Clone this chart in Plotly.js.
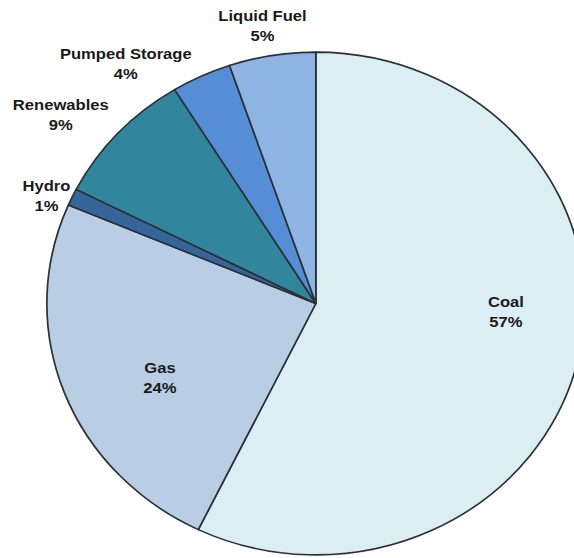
<!DOCTYPE html>
<html>
<head>
<meta charset="utf-8">
<script src="https://cdn.plot.ly/plotly-3.0.1.min.js"></script>
<style>
html, body { margin: 0; padding: 0; background: #ffffff; overflow: hidden; width: 574px; height: 558px; }
#chart { width: 600px; height: 558px; transform: scaleX(1.07); transform-origin: 0 0; }
</style>
</head>
<body>
<div id="chart"></div>
<script>
const categories = ["Coal", "Gas", "Hydro", "Renewables", "Pumped Storage", "Liquid Fuel"];
const shares = [57.2, 24.2, 1.1, 8.7, 3.6, 5.2];
const sliceColors = ["#dbeef4", "#b9cde5", "#36659a", "#31859c", "#558ed5", "#8eb4e3"];

// label anchor points (paper fractions of the unscaled 600x558 plot)
const labelX = [473 / 600, 149.5 / 600, 43 / 600, 57 / 600, 118 / 600, 246 / 600];
const labelY = [1 - 311 / 558, 1 - 377 / 558, 1 - 195 / 558, 1 - 114 / 558, 1 - 63 / 558, 1 - 26 / 558];

const total = shares.reduce((a, b) => a + b, 0);

const trace = {
  type: "pie",
  labels: categories,
  values: shares,
  sort: false,
  direction: "clockwise",
  rotation: 0,
  marker: { colors: sliceColors, line: { color: "#2b3038", width: 1.6 } },
  textinfo: "none",
  domain: { x: [0.073, 0.911], y: [0.0054, 0.9068] },
  hoverinfo: "none",
  showlegend: false
};

const annotations = categories.map((c, i) => ({
  xref: "paper", yref: "paper",
  x: labelX[i], y: labelY[i],
  xanchor: "center", yanchor: "middle",
  text: c + "<br>" + Math.round(shares[i] / total * 100) + "%",
  showarrow: false,
  align: "center",
  font: { family: "Liberation Sans, Arial, sans-serif", size: 15.5, color: "#1a1a1a", weight: "bold" }
}));

const layout = {
  width: 600,
  height: 558,
  margin: { l: 0, r: 0, t: 0, b: 0 },
  paper_bgcolor: "#ffffff",
  plot_bgcolor: "#ffffff",
  showlegend: false,
  annotations: annotations
};

Plotly.newPlot("chart", [trace], layout, { staticPlot: true, displayModeBar: false });
</script>
</body>
</html>
